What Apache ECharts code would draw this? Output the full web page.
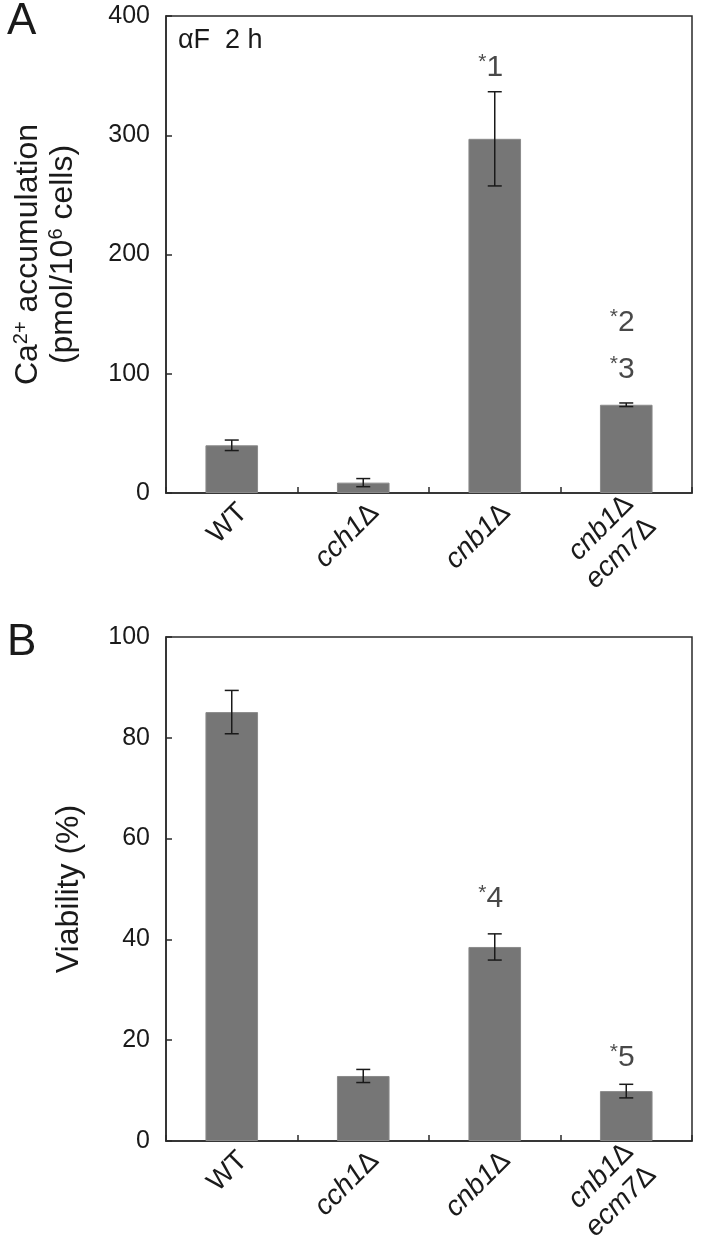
<!DOCTYPE html>
<html>
<head>
<meta charset="utf-8">
<script src="https://cdn.jsdelivr.net/npm/echarts@6/dist/echarts.min.js"></script>
<style>
html,body{margin:0;padding:0;background:#fff;}
#c{width:701px;height:1251px;}
</style>
</head>
<body>
<div id="c"></div>
<script>
const categories = ['WT', 'cch1Δ', 'cnb1Δ', 'cnb1Δ\necm7Δ'];

const caValues = [40, 8.7, 297, 74];
const caErrors = [4.4, 3.4, 39.5, 1.5];
const caTicks = [0, 100, 200, 300, 400];

const viaValues = [85.1, 12.9, 38.5, 9.9];
const viaErrors = [4.3, 1.3, 2.6, 1.35];
const viaTicks = [0, 20, 40, 60, 80, 100];

const caNotes = [
  { cat: 'cnb1Δ', y: 357, text: '1' },
  { cat: 'cnb1Δ\necm7Δ', y: 143, text: '2' },
  { cat: 'cnb1Δ\necm7Δ', y: 103, text: '3' }
];
const viaNotes = [
  { cat: 'cnb1Δ', y: 48, text: '4' },
  { cat: 'cnb1Δ\necm7Δ', y: 16.5, text: '5' }
];

const FONT = 'Liberation Sans';
const TXT = '#1a1a1a';
const BAR = '#767676';
const AX = '#2a2a2a';

// style suffix: '' single line, '1' first of two lines, '2' second of two lines
function catLabel(v) {
  const lines = v.split('\n');
  return lines.map(function (line, k) {
    const sfx = lines.length > 1 ? String(k + 1) : '';
    if (line === 'WT') return '{n' + sfx + '|WT}';
    if (line.endsWith('Δ')) return '{i' + sfx + '|' + line.slice(0, -1) + '}{n' + sfx + '|Δ}';
    return '{n' + sfx + '|' + line + '}';
  }).join('\n');
}

function tok(lh, italic) {
  return { fontFamily: FONT, fontSize: 28, color: TXT, lineHeight: lh, fontStyle: italic ? 'italic' : 'normal' };
}
const labelRich = {
  n: tok(32, false), i: tok(32, true),
  n1: tok(8, false), i1: tok(8, true),
  n2: tok(56, false), i2: tok(56, true)
};

function xAxisCfg(gi) {
  return {
    type: 'category', gridIndex: gi, data: categories,
    axisLine: { show: true, lineStyle: { color: AX, width: 1.5 } },
    axisTick: { show: true, inside: true, length: 6, lineStyle: { color: AX, width: 1.5 } },
    axisLabel: { rotate: 45, margin: 4, interval: 0, align: 'right', verticalAlign: 'top',
      formatter: catLabel, rich: labelRich },
    splitLine: { show: false }
  };
}

function yAxisCfg(gi, max, interval, name, nameGap) {
  return {
    type: 'value', gridIndex: gi, min: 0, max: max, interval: interval,
    axisLine: { show: true, lineStyle: { color: AX, width: 1.5 } },
    axisTick: { show: true, inside: true, length: 6, lineStyle: { color: AX, width: 1.5 } },
    axisLabel: { fontFamily: FONT, fontSize: 25, color: TXT, margin: 16 },
    splitLine: { show: false },
    name: name, nameLocation: 'middle', nameRotate: 90, nameGap: nameGap,
    nameTextStyle: {
      fontFamily: FONT, fontSize: 32, color: TXT, lineHeight: 35,
      rich: {
        n: { fontFamily: FONT, fontSize: 32, color: TXT, lineHeight: 35 },
        s: { fontFamily: FONT, fontSize: 20, color: TXT, verticalAlign: 'top', lineHeight: 35 }
      }
    }
  };
}

function errSeries(xi, yi, vals, errs) {
  return {
    type: 'custom', xAxisIndex: xi, yAxisIndex: yi, z: 5,
    data: vals.map(function (v, k) { return [k, v - errs[k], v + errs[k]]; }),
    renderItem: function (params, api) {
      const lo = api.coord([api.value(0), api.value(1)]);
      const hi = api.coord([api.value(0), api.value(2)]);
      const hw = 7;
      const st = { stroke: '#1a1a1a', lineWidth: 1.5 };
      return {
        type: 'group', children: [
          { type: 'line', shape: { x1: lo[0], y1: lo[1], x2: hi[0], y2: hi[1] }, style: st },
          { type: 'line', shape: { x1: lo[0] - hw, y1: lo[1], x2: lo[0] + hw, y2: lo[1] }, style: st },
          { type: 'line', shape: { x1: hi[0] - hw, y1: hi[1], x2: hi[0] + hw, y2: hi[1] }, style: st }
        ]
      };
    }
  };
}

function noteSeries(xi, yi, notes) {
  return {
    type: 'scatter', xAxisIndex: xi, yAxisIndex: yi, symbolSize: 0, silent: true,
    data: notes.map(function (n) { return { value: [n.cat, n.y], note: n.text }; }),
    label: {
      show: true, position: 'inside', offset: [-4, 0],
      formatter: function (p) { return '{st|*}{t|' + p.data.note + '}'; },
      rich: {
        st: { fontFamily: FONT, fontSize: 21, color: TXT, verticalAlign: 'top', lineHeight: 32 },
        t: { fontFamily: FONT, fontSize: 30, color: TXT, lineHeight: 32 }
      }
    }
  };
}

const chart = echarts.init(document.getElementById('c'), null, { renderer: 'canvas' });
chart.setOption({
  animation: false,
  backgroundColor: '#ffffff',
  grid: [
    { left: 166, top: 16, width: 526, height: 477, show: true, borderColor: AX, borderWidth: 1.5,
      backgroundColor: 'transparent', outerBoundsMode: 'none', containLabel: false },
    { left: 166, top: 637, width: 526, height: 504, show: true, borderColor: AX, borderWidth: 1.5,
      backgroundColor: 'transparent', outerBoundsMode: 'none', containLabel: false }
  ],
  xAxis: [xAxisCfg(0), xAxisCfg(1)],
  yAxis: [
    yAxisCfg(0, caTicks[caTicks.length - 1], caTicks[1] - caTicks[0],
      '{n|Ca}{s|2+}{n| accumulation}\n{n|(pmol/10}{s|6}{n| cells)}', 85),
    yAxisCfg(1, viaTicks[viaTicks.length - 1], viaTicks[1] - viaTicks[0], 'Viability (%)', 79)
  ],
  graphic: [
    { type: 'text', left: 7, top: 0, style: { text: 'A', fontFamily: FONT, fontSize: 44, fill: TXT } },
    { type: 'text', left: 7, top: 621, style: { text: 'B', fontFamily: FONT, fontSize: 44, fill: TXT } },
    { type: 'text', left: 178, top: 27, style: { text: 'αF  2 h', fontFamily: FONT, fontSize: 27, fill: TXT } }
  ],
  series: [
    { type: 'bar', xAxisIndex: 0, yAxisIndex: 0, data: caValues, barWidth: '40%',
      itemStyle: { color: BAR, borderColor: '#8a8a8a', borderWidth: 1 } },
    errSeries(0, 0, caValues, caErrors),
    noteSeries(0, 0, caNotes),
    { type: 'bar', xAxisIndex: 1, yAxisIndex: 1, data: viaValues, barWidth: '40%',
      itemStyle: { color: BAR, borderColor: '#8a8a8a', borderWidth: 1 } },
    errSeries(1, 1, viaValues, viaErrors),
    noteSeries(1, 1, viaNotes)
  ]
});
</script>
</body>
</html>
